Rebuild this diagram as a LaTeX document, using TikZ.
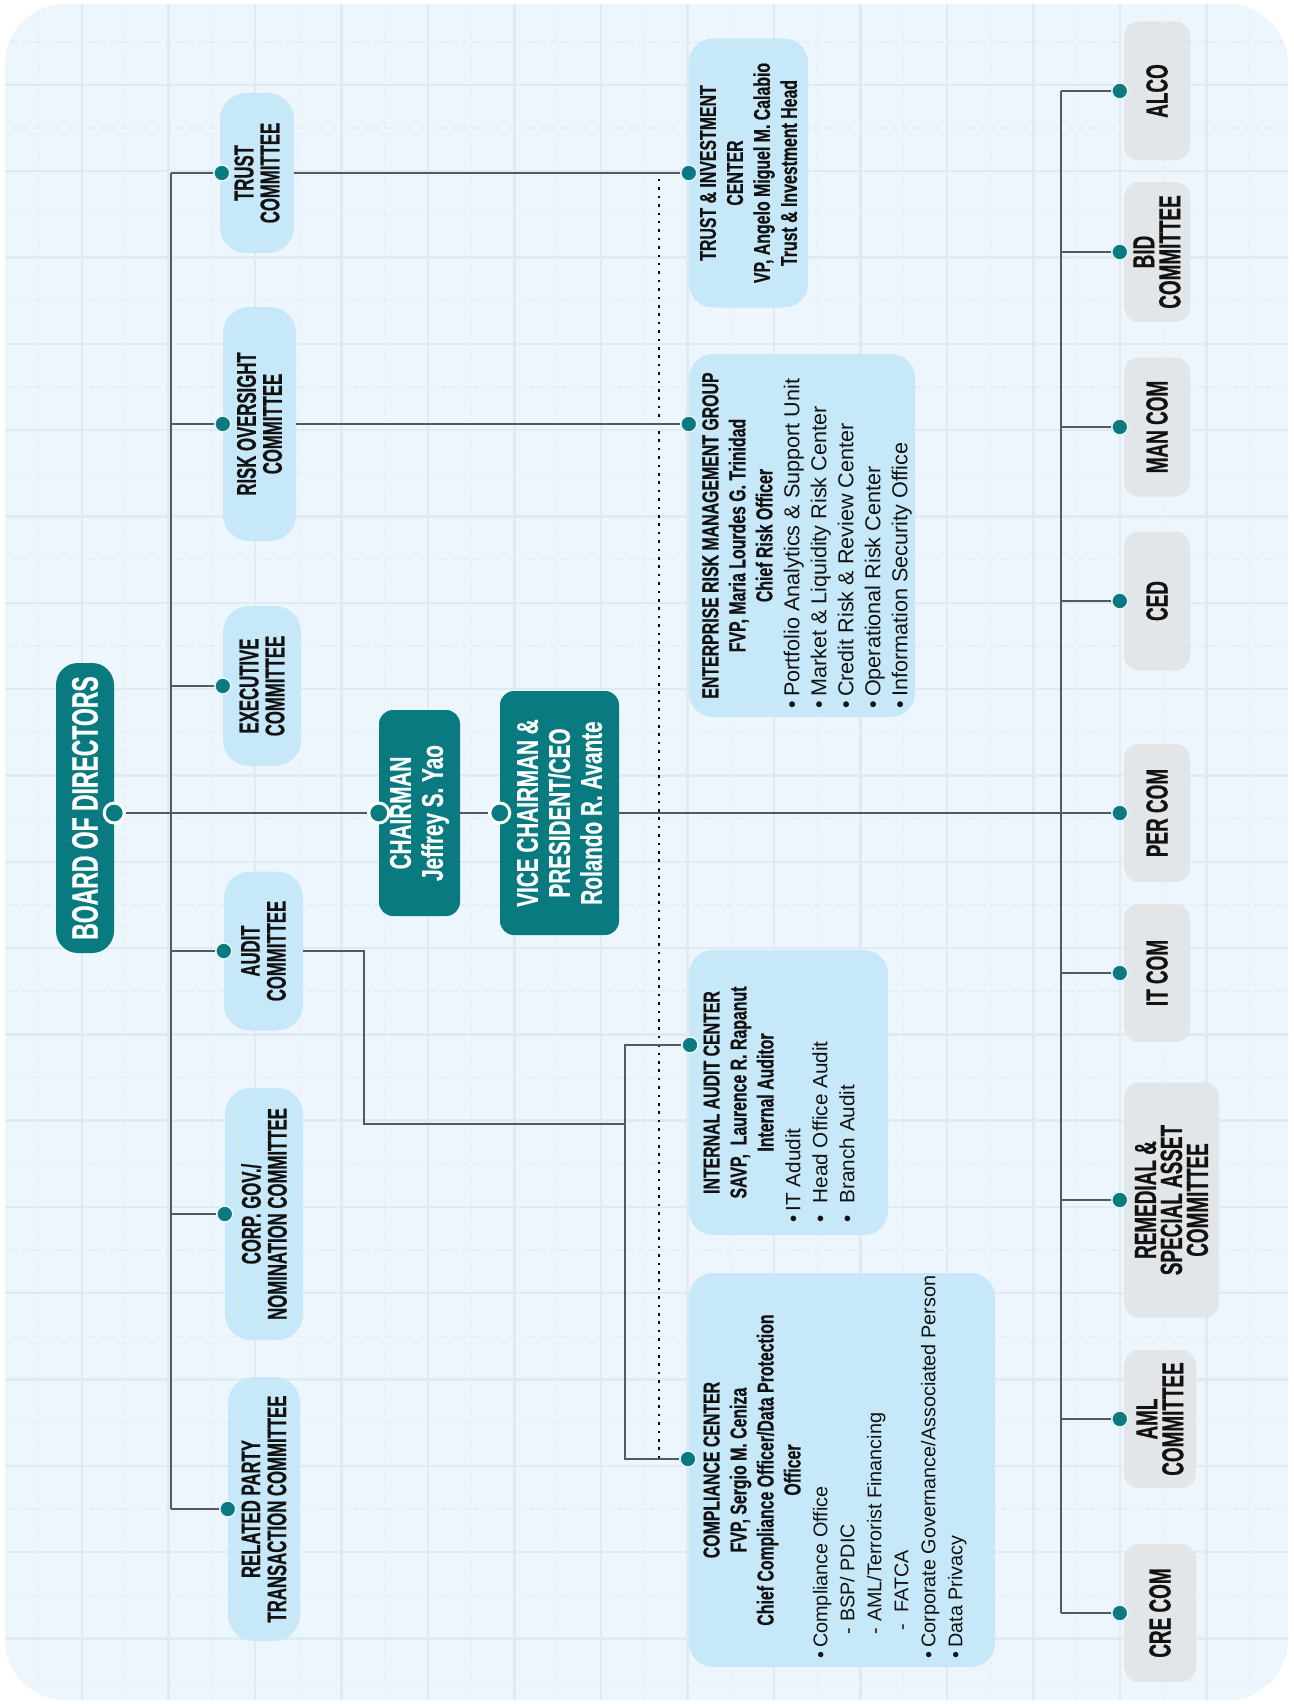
\documentclass[tikz,border=0pt]{standalone}
\usepackage{fontspec}
\setmainfont{Liberation Sans}
\newfontfamily\cb[FakeStretch=0.62, BoldFeatures={FakeBold=0.6}]{Liberation Sans}
\newfontfamily\cw[FakeStretch=0.69, BoldFeatures={FakeBold=0.6}]{Liberation Sans}
\definecolor{panelbg}{HTML}{EEF6FD}
\definecolor{gridc}{HTML}{E1EAF2}
\definecolor{gridm}{HTML}{E5EDF5}
\definecolor{lblue}{HTML}{C6E8F8}
\definecolor{gboxc}{HTML}{E2E6E9}
\definecolor{tealc}{HTML}{087A80}
\definecolor{linec}{HTML}{55595D}
\definecolor{txtc}{HTML}{121212}
\definecolor{ringc}{HTML}{E6F5FB}
\newcommand{\ttl}{\cw\bfseries\fontsize{23}{27}\selectfont}
\newcommand{\bul}[1]{\rmfamily\mdseries\fontsize{#1}{27}\selectfont}
\begin{document}
\begin{tikzpicture}[x=1pt,y=-1pt,
  lbox/.style={rectangle, rounded corners=26pt, fill=lblue, rotate=90, inner sep=0pt, align=center, text=txtc, font=\cb\bfseries\fontsize{27}{26}\selectfont},
  gbox/.style={rectangle, rounded corners=15pt, fill=gboxc, rotate=90, inner sep=0pt, align=center, text=txtc, font=\cb\bfseries\fontsize{30.5}{26}\selectfont},
  tbox/.style={rectangle, rounded corners=14pt, fill=tealc, rotate=90, inner sep=0pt, align=center, text=white, font=\cw\bfseries\fontsize{30}{32}\selectfont},
  cbox/.style={rectangle, rounded corners=24pt, fill=lblue, rotate=90, inner sep=0pt, text=txtc},
  conn/.style={draw=linec, line width=2.8pt},
  dotline/.style={draw=black, line width=2.5pt, dash pattern=on 2.5pt off 5.9pt},
  sdot/.style={circle, fill=tealc, draw=ringc, line width=1.5pt, minimum size=16pt, inner sep=0pt},
  bdot/.style={circle, fill=tealc, draw=white, line width=3pt, minimum size=20pt, inner sep=0pt}
]
\useasboundingbox (0,0) rectangle (1293,1704);
\fill[white] (0,0) rectangle (1293,1704);
\fill[panelbg, rounded corners=60pt] (5,4) rectangle (1288,1700);
\begin{scope}
  \clip[rounded corners=60pt] (5,4) rectangle (1288,1700);
  \foreach \i in {0,...,15} {
    \draw[gridm, line width=1.4pt, dash pattern=on 7pt off 4pt] ({82+86.5*\i-43.25},0) -- ({82+86.5*\i-43.25},1704);
  }
  \foreach \i in {0,...,19} {
    \draw[gridm, line width=1.4pt, dash pattern=on 7pt off 4pt] (0,{85+86.3*\i-43.15}) -- (1293,{85+86.3*\i-43.15});
  }
  \foreach \i in {0,...,14} {
    \draw[gridc, line width=2.4pt] ({82+86.5*\i},0) -- ({82+86.5*\i},1704);
  }
  \foreach \i in {0,...,19} {
    \draw[gridc, line width=2.4pt] (0,{85+86.3*\i}) -- (1293,{85+86.3*\i});
  }
\end{scope}

% board and executives
\node[tbox, rounded corners=22pt, minimum width=290pt, minimum height=58pt, font=\cb\bfseries\fontsize{37}{40}\selectfont] (bod) at (85,808) {BOARD OF DIRECTORS};
\node[tbox, minimum width=206pt, minimum height=81pt] (chair) at (419.5,813) {CHAIRMAN\\Jeffrey S. Yao};
\node[tbox, minimum width=244pt, minimum height=119pt] (vc) at (559.5,813) {VICE CHAIRMAN \&\\PRESIDENT/CEO\\Rolando R. Avante};

% board committees
\node[lbox, minimum width=160pt, minimum height=74pt] (trust) at (257,173) {TRUST\\COMMITTEE};
\node[lbox, minimum width=234pt, minimum height=73pt] (risk) at (259.5,424) {RISK OVERSIGHT\\COMMITTEE};
\node[lbox, minimum width=160pt, minimum height=78pt] (exec) at (262,686) {EXECUTIVE\\COMMITTEE};
\node[lbox, minimum width=159pt, minimum height=79pt] (audit) at (263.5,951) {AUDIT\\COMMITTEE};
\node[lbox, minimum width=252pt, minimum height=78pt] (corp) at (264,1214) {CORP. GOV./\\NOMINATION COMMITTEE};
\node[lbox, minimum width=264pt, minimum height=72pt] (rpt) at (264,1509) {RELATED PARTY\\TRANSACTION COMMITTEE};

% centers
\node[cbox, minimum width=269pt, minimum height=119pt] (ti) at (748.5,173) {\parbox{250pt}{\centering\ttl TRUST \& INVESTMENT\\CENTER\\VP, Angelo Miguel M. Calabio\\Trust \& Investment Head\par}};
\node[cbox, minimum width=363pt, minimum height=226pt] (ermg) at (802,535.5) {\parbox{345pt}{\vspace*{10pt}\centering\ttl ENTERPRISE RISK MANAGEMENT GROUP\\FVP, Maria Lourdes G. Trinidad\\Chief Risk Officer\par\raggedright\bul{21.6}
  •\,Portfolio Analytics \& Support Unit\\
  •\,Market \& Liquidity Risk Center\\
  •\,Credit Risk \& Review Center\\
  •\,Operational Risk Center\\
  •\,Information Security Office\par}};
\node[cbox, minimum width=285pt, minimum height=199pt] (ia) at (788.5,1092.5) {\parbox{259pt}{\centering\ttl INTERNAL AUDIT CENTER\\SAVP,\ \ Laurence R. Rapanut\\Internal Auditor\par\raggedright\bul{20.7}
  •\,IT Adudit\\
  •\ \ Head Office Audit\\
  •\ \ Branch Audit\par\vspace*{19pt}}};
\node[cbox, minimum width=394pt, minimum height=306pt] (cc) at (842,1470) {\parbox{376pt}{\centering\ttl COMPLIANCE CENTER\\FVP, Sergio M. Ceniza\\Chief Compliance Officer/Data Protection\\Officer\par\raggedright\bul{19.8}
  •\,Compliance Office\\
  \hspace*{24pt}- BSP/ PDIC\\
  \hspace*{24pt}- AML/Terrorist Financing\\
  \hspace*{28pt}-\ \ FATCA\\
  \mbox{•\,Corporate Governance/Associated Person}\\
  •\,Data Privacy\par\vspace*{14pt}}};

% management committees
\node[gbox, minimum width=139pt, minimum height=66pt] (alco) at (1157,91) {ALCO};
\node[gbox, minimum width=140pt, minimum height=66pt] (bid) at (1157,252) {BID\\COMMITTEE};
\node[gbox, minimum width=139pt, minimum height=66pt] (mancom) at (1157,427) {MAN COM};
\node[gbox, minimum width=139pt, minimum height=66pt] (ced) at (1157,601) {CED};
\node[gbox, minimum width=138pt, minimum height=66pt] (percom) at (1157,813) {PER COM};
\node[gbox, minimum width=138pt, minimum height=66pt] (itcom) at (1157,973) {IT COM};
\node[gbox, minimum width=235pt, minimum height=95pt] (remedial) at (1171.5,1200) {REMEDIAL \&\\SPECIAL ASSET\\COMMITTEE};
\node[gbox, minimum width=138pt, minimum height=72pt] (aml) at (1160,1419) {AML\\COMMITTEE};
\node[gbox, minimum width=138pt, minimum height=72pt] (crecom) at (1160,1613) {CRE COM};

% spines
\coordinate (ls) at (171,0);
\coordinate (rs) at (1061,0);
\coordinate (dl) at (659,0);
\coordinate (aj) at (364,1124);
\coordinate (ax) at (625,1124);

% dots
\node[bdot] (dbod) at (bod.south |- chair.north) {};
\node[bdot] (dchair) at (chair.north) {};
\node[bdot] (dvc) at (vc.north) {};
\node[sdot] (dtrust) at ([xshift=2pt]trust.north) {};
\node[sdot] (drisk) at (risk.north) {};
\node[sdot] (dexec) at (exec.north) {};
\node[sdot] (daudit) at (audit.north) {};
\node[sdot] (dcorp) at (corp.north) {};
\node[sdot] (drpt) at (rpt.north) {};
\node[sdot] (dti) at (ti.north) {};
\node[sdot] (dermg) at (ermg.north |- risk.south) {};
\node[sdot] (dia) at (690,1045) {};
\node[sdot] (dcc) at (688,1459) {};
\foreach \b in {alco,bid,mancom,ced,percom,itcom,remedial,aml,crecom} {
  \node[sdot] (d\b) at ([xshift=-4pt]\b.north) {};
}

% dotted line
\draw[dotline] ([yshift=-6pt]dl |- dti) -- (dl |- dcc);

% connectors
\draw[conn] (ls |- dtrust) -- (ls |- drpt);
\foreach \d in {dtrust,drisk,dexec,daudit,dcorp,drpt} {
  \draw[conn] (ls |- \d) -- (\d);
}
\draw[conn] (dbod) -- (dchair);
\draw[conn] (chair.south) -- (dvc);
\draw[conn] (vc.south) -- (dpercom);
\draw[conn] (trust.south) -- (dti);
\draw[conn] (risk.south) -- (dermg);
\draw[conn] (audit.south) -| (aj) -- (ax);
\draw[conn] (dia) -- (ax |- dia) -- (ax |- dcc) -- (dcc);
\draw[conn] (rs |- dalco) -- (rs |- dcrecom);
\foreach \d in {dalco,dbid,dmancom,dced,dpercom,ditcom,dremedial,daml,dcrecom} {
  \draw[conn] (rs |- \d) -- (\d);
}
\end{tikzpicture}
\end{document}
